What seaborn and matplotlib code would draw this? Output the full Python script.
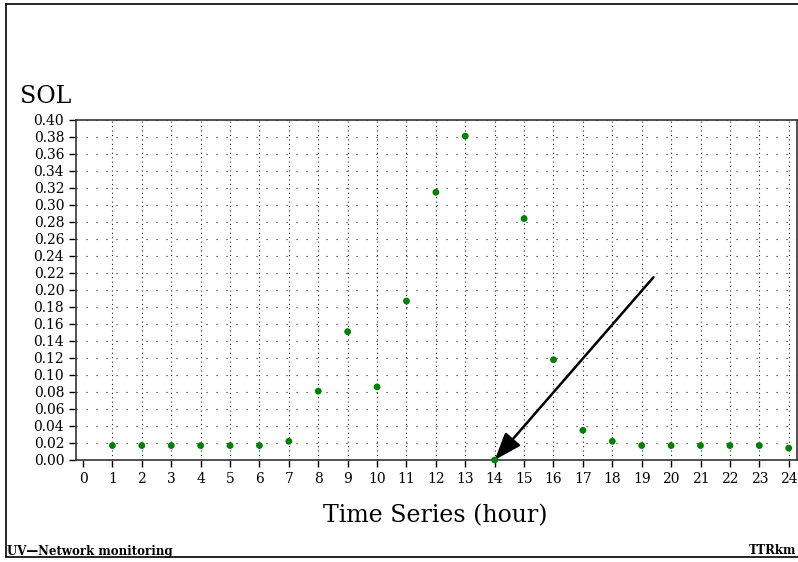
import matplotlib
matplotlib.use("Agg")
import matplotlib.pyplot as plt
from matplotlib.lines import Line2D
import numpy as np
import pandas as pd
import seaborn as sns

# Data
hours = list(range(1, 25))
sol = [0.017, 0.017, 0.017, 0.017, 0.017, 0.017, 0.022, 0.081, 0.151, 0.086,
       0.187, 0.315, 0.381, 0.000, 0.284, 0.118, 0.035, 0.022, 0.017, 0.017,
       0.017, 0.017, 0.017, 0.014]
x_ticks = list(range(0, 25))
y_ticks = [round(v * 0.02, 2) for v in range(0, 21)]
arrow_tip = (14, 0.0)
arrow_tail = (19.4, 0.215)

sns.set_style("ticks")
plt.rcParams["font.family"] = ["DejaVu Serif"]
plt.rcParams.update({"text.color": "black", "xtick.color": "black",
                     "ytick.color": "black", "xtick.labelcolor": "black",
                     "ytick.labelcolor": "black"})

df = pd.DataFrame({"hour": hours, "sol": sol})

fig = plt.figure(figsize=(7.98, 5.62), dpi=100)
ax = fig.add_axes([0.0952, 0.1815, 0.9035, 0.605])

sns.scatterplot(data=df, x="hour", y="sol", ax=ax, color="#008000",
                s=24, edgecolor="none", zorder=5, clip_on=False)

ax.set_xlim(-0.24, 24.28)
ax.set_ylim(0, 0.40)
ax.set_xticks(x_ticks)
ax.set_yticks(y_ticks)
ax.set_yticklabels([f"{v:.2f}" for v in y_ticks])
ax.tick_params(axis="both", labelsize=10, length=5, width=1, color="black",
               direction="out")

for v in x_ticks[1:]:
    ax.axvline(v, color="#222222", lw=0.8, linestyle=(0, (1, 3)), zorder=1)
for v in y_ticks[1:]:
    ax.axhline(v, color="#222222", lw=0.8, linestyle=(0, (1, 8)), zorder=1)

for side in ["top", "right", "bottom", "left"]:
    ax.spines[side].set_visible(True)
    ax.spines[side].set_color("#333333")
    ax.spines[side].set_linewidth(1.2)

ax.set_xlabel("")
ax.set_ylabel("")

ax.annotate("", xy=arrow_tip, xytext=arrow_tail,
            arrowprops=dict(arrowstyle="-|>,head_length=0.6,head_width=0.22",
                            lw=1.8, color="black",
                            mutation_scale=28, shrinkA=0, shrinkB=0),
            zorder=4)

fig.text(20 / 798, 1 - 97 / 562, "SOL", fontsize=17, va="center", ha="left")
fig.text(435 / 798, 1 - 516 / 562, "Time Series (hour)", fontsize=17,
         va="center", ha="center")
fig.text(7 / 798, 1 - 551 / 562, "UV\u2014Network monitoring", fontsize=8.5,
         fontweight="bold", va="center", ha="left")
fig.text(796 / 798, 1 - 551 / 562, "TTRkm", fontsize=8.5,
         fontweight="bold", va="center", ha="right")

# frame around the figure (left, top, bottom)
x0, y_top, y_bot = 6 / 798, 1 - 4 / 562, 1 - 557 / 562
for xs, ys in [([x0, 1.0], [y_top, y_top]), ([x0, x0], [y_bot, y_top]),
               ([x0, 1.0], [y_bot, y_bot])]:
    fig.add_artist(Line2D(xs, ys, color="black", lw=1.2,
                          transform=fig.transFigure))

fig.savefig("out.png", dpi=100)
